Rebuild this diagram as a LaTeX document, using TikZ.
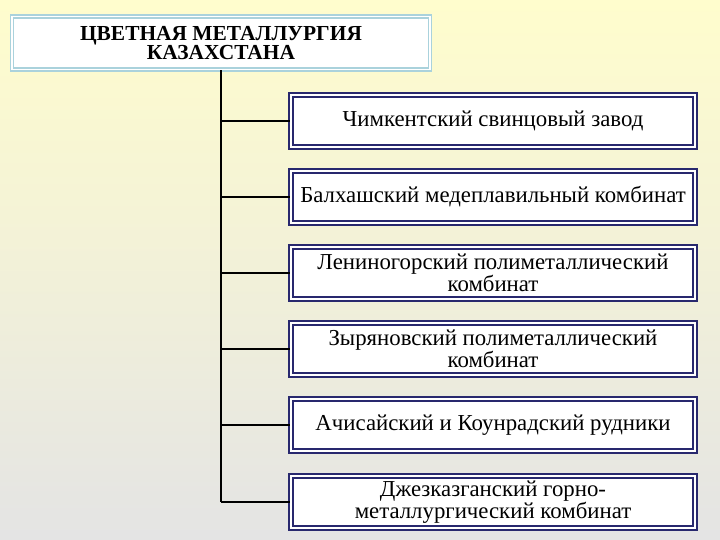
\documentclass[tikz,border=0pt]{standalone}
\usepackage{fontspec}
\setmainfont{Liberation Serif}
\newcommand{\bx}{\fontsize{22.8}{26}\selectfont}
\newcommand{\tx}{\fontsize{21.4}{23}\selectfont\bfseries}
\begin{document}
\begin{tikzpicture}[x=1pt,y=-1pt,
 box/.style={draw=navyc,double=white,double distance=2pt,line width=2pt,fill=white,minimum width=404pt,minimum height=52pt,align=center,inner sep=1pt},
 conn/.style={line width=1.5pt}]
\definecolor{navyc}{RGB}{40,40,110}
\definecolor{lblue}{RGB}{170,210,220}
\shade[top color={rgb,255:red,255;green,253;blue,205},bottom color={rgb,255:red,228;green,228;blue,228}] (0,0) rectangle (720,540);
\useasboundingbox (0,0) rectangle (720,540);
\node[draw=lblue,double=white,double distance=1.5pt,line width=1.5pt,fill=white,minimum width=418pt,minimum height=53pt,align=center,inner sep=1pt] (t) at (221,43) {\tx ЦВЕТНАЯ МЕТАЛЛУРГИЯ\\\tx КАЗАХСТАНА};
\node[box] (b1) at (493,121) {\bx Чимкентский свинцовый завод};
\node[box] (b2) at (493,197) {\bx Балхашский медеплавильный комбинат};
\node[box] (b3) at (493,273) {\bx Лениногорский полиметаллический\\\bx комбинат};
\node[box] (b4) at (493,349) {\bx Зыряновский полиметаллический\\\bx комбинат};
\node[box] (b5) at (493,425) {\bx Ачисайский и Коунрадский рудники};
\node[box] (b6) at (493,502) {\bx Джезказганский горно-\\\bx металлургический комбинат};
\coordinate (top) at (t.south);
\coordinate (bot) at (221,502);
\draw[conn] (top) -- (bot);
\foreach \i in {1,...,6}{\draw[conn] (221,0 |- b\i.west) -- (b\i.west);}
\end{tikzpicture}
\end{document}
